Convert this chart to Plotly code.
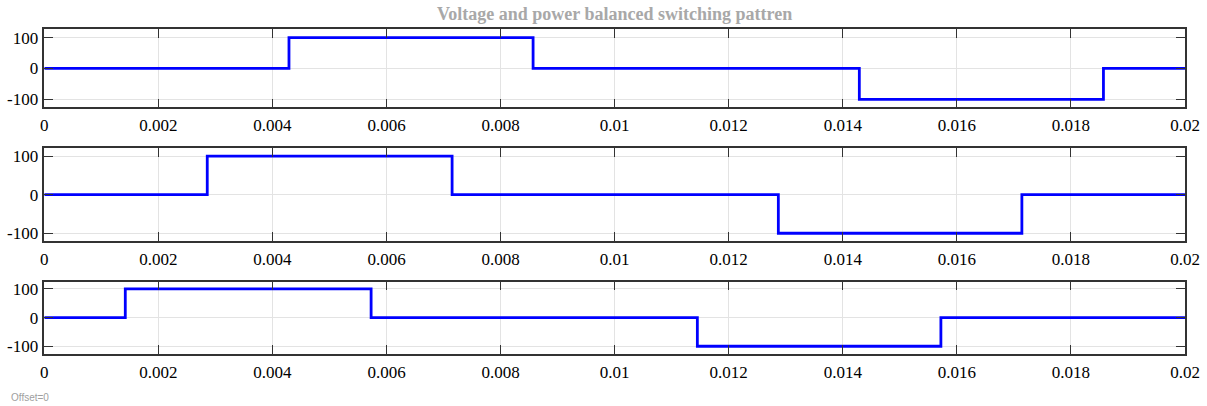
import plotly.graph_objects as go

# switching instants (s) and levels for each of the three phases
t_end = 0.02
phase1_times = [0.0, 0.00429, 0.00857, 0.01429, 0.01857]
phase1_levels = [0, 100, 0, -100, 0]
phase2_times = [0.0, 0.002857, 0.00715, 0.01287, 0.01714]
phase2_levels = [0, 100, 0, -100, 0]
phase3_times = [0.0, 0.00142, 0.00573, 0.01145, 0.01572]
phase3_levels = [0, 100, 0, -100, 0]

x_ticks = [0, 0.002, 0.004, 0.006, 0.008, 0.01, 0.012, 0.014, 0.016, 0.018, 0.02]
x_tick_text = ["0", "0.002", "0.004", "0.006", "0.008", "0.01", "0.012", "0.014", "0.016", "0.018", "0.02"]
y_ticks = [-100, 0, 100]
y_tick_text = ["-100", "0", "100"]

SERIF = "Liberation Serif, Times New Roman, serif"
W, H = 1207, 406
x_dom = [44.3 / W, 1185 / W]
boxes = [(29.3, 107.3), (148.3, 241.0), (281.7, 354.0)]
y_ranges = [[-126, 127], [-120, 120], [-127, 125]]

fig = go.Figure()
series = [(phase1_times, phase1_levels), (phase2_times, phase2_levels), (phase3_times, phase3_levels)]
for i, (ts, lv) in enumerate(series):
    xs = list(ts) + [t_end]
    ys = list(lv) + [lv[-1]]
    sfx = "" if i == 0 else str(i + 1)
    fig.add_trace(go.Scatter(x=xs, y=ys, mode="lines", line=dict(color="#0000ff", width=2.8, shape="hv"),
                             xaxis="x" + sfx, yaxis="y" + sfx, showlegend=False, hoverinfo="skip"))
    top, bot = boxes[i]
    axcommon = dict(showline=True, linecolor="#333333", linewidth=1.5, mirror="ticks", ticks="inside",
                    ticklen=9, tickwidth=1.3, tickcolor="#333333", showgrid=True, gridcolor="#e3e3e3",
                    gridwidth=1, zeroline=False, automargin=False,
                    tickfont=dict(family=SERIF, size=17, color="#000000"))
    fig.layout["xaxis" + sfx] = dict(domain=x_dom, range=[0, t_end], tickvals=x_ticks, ticktext=x_tick_text,
                                     anchor="y" + sfx, ticklabelstandoff=2, **axcommon)
    fig.layout["yaxis" + sfx] = dict(domain=[1 - bot / H, 1 - top / H], range=y_ranges[i], tickvals=y_ticks,
                                     ticktext=y_tick_text, anchor="x" + sfx, ticklabelstandoff=1, **axcommon)

fig.update_layout(
    width=W, height=H, margin=dict(l=0, r=0, t=0, b=0, autoexpand=False),
    plot_bgcolor="white", paper_bgcolor="white",
    font=dict(family=SERIF, size=17, color="#000000"),
    annotations=[
        dict(text="<b>Voltage and power balanced switching pattren</b>", x=614.5 / W, y=1 - 14 / H,
             xref="paper", yref="paper", showarrow=False, xanchor="center", yanchor="middle",
             font=dict(family=SERIF, size=18, color="#a8a8a8")),
        dict(text="Offset=0", x=9 / W, y=1 - 397 / H, xref="paper", yref="paper", showarrow=False,
             xanchor="left", yanchor="middle", font=dict(family="Liberation Sans", size=10, color="#a0a0a0")),
    ],
)

fig.write_html("out.html")
